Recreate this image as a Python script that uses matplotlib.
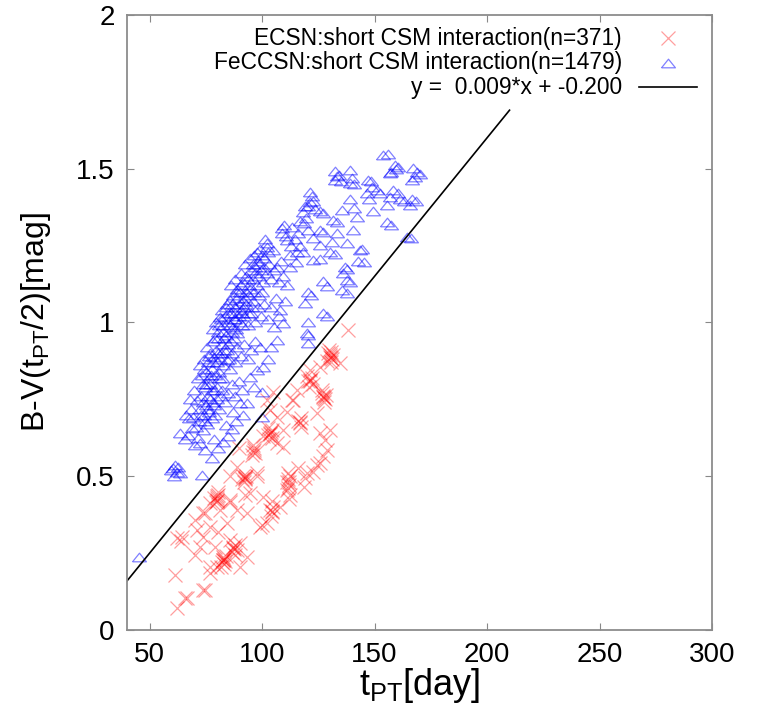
import numpy as np
import matplotlib
matplotlib.use('Agg')
import matplotlib.pyplot as plt
from matplotlib import font_manager

plt.rcParams['font.family'] = ['Liberation Sans', 'DejaVu Sans']
plt.rcParams['mathtext.default'] = 'regular'

# FeCCSN points (t_PT [day], B-V [mag])
feccsn_pts = [
    (45.3, 0.237),
    (59.5, 0.52), (60.8, 0.50), (61.3, 0.535), (62.0, 0.515), (62.8, 0.53), (63.5, 0.51), (60.2, 0.525),
    (73.2, 0.504), (77.6, 0.558), (74.5, 0.585), (80.6, 0.591), (70.0, 0.60), (72.4, 0.608), (63.6, 0.64),
    (65.5, 0.62), (67.0, 0.635), (69.0, 0.655), (71.5, 0.625), (78.5, 0.62), (82.5, 0.61), (85.0, 0.629),
    (84.0, 0.665), (86.8, 0.652), (88.5, 0.68), (87.2, 0.71), (90.2, 0.738), (93.2, 0.738), (91.5, 0.70),
    (94.7, 0.824), (96.5, 0.79), (99.9, 0.775), (99.9, 0.694), (97.8, 0.845), (100.6, 0.856), (102.5, 0.88),
    (104.0, 0.92), (106.5, 0.943), (109.4, 0.998), (107.5, 1.02), (105.5, 0.985),
    (66.0, 0.70), (67.3, 0.688), (68.5, 0.72), (69.3, 0.694), (68.0, 0.75), (69.5, 0.78), (70.5, 0.66),
    (71.0, 0.748), (72.0, 0.68), (72.5, 0.72), (73.0, 0.76), (73.5, 0.65), (74.0, 0.70), (74.5, 0.79),
    (75.0, 0.73), (75.5, 0.67), (76.0, 0.76), (76.5, 0.71), (77.0, 0.80), (77.5, 0.69), (78.0, 0.74),
    (78.5, 0.78), (79.0, 0.70), (80.0, 0.75), (81.0, 0.72), (82.0, 0.78), (83.5, 0.74), (85.0, 0.77),
    (86.5, 0.80), (88.0, 0.76), (89.5, 0.81), (91.0, 0.78),
    (72.8, 0.70), (73.8, 0.74), (74.8, 0.68), (75.8, 0.72), (76.8, 0.75), (77.8, 0.78), (78.8, 0.73),
    (79.8, 0.79), (80.8, 0.82), (81.8, 0.76),
    (71.5, 0.82), (72.5, 0.86), (73.5, 0.80), (74.0, 0.88), (75.0, 0.84), (75.5, 0.92), (76.0, 0.87),
    (76.5, 0.82), (77.0, 0.90), (77.5, 0.85), (78.0, 0.94), (78.4, 0.889), (79.0, 0.83), (79.5, 0.91),
    (80.0, 0.87), (80.5, 0.95), (81.0, 0.84), (81.5, 0.90), (82.0, 0.93), (82.5, 0.86), (83.0, 0.91),
    (84.3, 0.878), (85.0, 0.93), (85.5, 0.85), (86.5, 0.90), (87.5, 0.95), (88.0, 0.87), (89.0, 0.92),
    (90.5, 0.89), (92.0, 0.93), (93.5, 0.88), (95.0, 0.91), (97.0, 0.94), (99.0, 0.92),
    (73.2, 0.83), (74.2, 0.85), (75.2, 0.80), (76.2, 0.89), (77.2, 0.83), (78.2, 0.87), (79.2, 0.95),
    (80.2, 0.90), (81.2, 0.88), (82.2, 0.82), (83.2, 0.95), (84.2, 0.91), (85.2, 0.88), (86.2, 0.94),
    (78.0, 0.98), (79.5, 1.00), (80.5, 0.97), (81.3, 1.019), (82.0, 1.04), (82.5, 0.99), (83.5, 1.02),
    (84.0, 0.96), (84.5, 1.06), (85.0, 1.00), (85.8, 1.073), (86.0, 1.03), (86.5, 0.97), (87.0, 1.09),
    (87.5, 1.01), (88.0, 1.05), (88.5, 0.98), (89.0, 1.08), (89.5, 1.02), (90.0, 1.10), (90.5, 1.04),
    (91.0, 0.99), (91.5, 1.07), (92.0, 1.02), (93.0, 1.06), (93.5, 0.99), (94.0, 1.09), (95.0, 1.03),
    (96.0, 1.07), (97.0, 1.00), (98.0, 1.05), (99.5, 1.02), (101.0, 1.06), (102.5, 1.01), (104.0, 1.05),
    (106.0, 1.08), (108.0, 1.04), (110.0, 1.07),
    (80.8, 0.99), (81.8, 1.01), (82.8, 0.97), (83.8, 1.05), (84.8, 1.03), (85.8, 0.99), (86.8, 1.06),
    (87.8, 1.03), (88.8, 1.10), (89.8, 1.06), (90.8, 1.12), (91.8, 1.05), (92.8, 1.10), (93.8, 1.14),
    (94.8, 1.11), (95.8, 1.19), (96.8, 1.16), (97.8, 1.23), (98.8, 1.19), (99.8, 1.22), (100.8, 1.18),
    (87.0, 0.985), (88.0, 1.01), (89.0, 0.965), (90.0, 1.00), (91.0, 1.03), (92.5, 1.08), (93.5, 1.03),
    (95.5, 1.05), (96.5, 1.10), (98.5, 1.09), (100.0, 1.10),
    (86.0, 1.12), (88.0, 1.14), (89.0, 1.11), (90.5, 1.16), (91.5, 1.13), (92.5, 1.19), (93.0, 1.15),
    (94.0, 1.12), (94.5, 1.21), (95.0, 1.17), (96.0, 1.14), (96.5, 1.22), (97.0, 1.18), (97.5, 1.12),
    (98.0, 1.20), (98.5, 1.15), (99.0, 1.24), (99.5, 1.17), (100.5, 1.13), (101.0, 1.21), (102.0, 1.16),
    (102.2, 1.245), (103.0, 1.19), (104.0, 1.14), (105.0, 1.236), (105.5, 1.17), (106.5, 1.181),
    (107.5, 1.13), (108.5, 1.20), (109.5, 1.15), (111.0, 1.12), (112.4, 1.181),
    (102.1, 1.258), (101.5, 1.27), (102.8, 1.23), (108.8, 1.306), (109.8, 1.317), (109.0, 1.29),
    (110.5, 1.28), (111.0, 1.268), (113.0, 1.25), (115.0, 1.197), (116.9, 1.247), (118.2, 1.229),
    (118.4, 1.323), (119.6, 1.34), (120.5, 1.30),
    (113.5, 1.31), (114.5, 1.27), (116.0, 1.29), (117.0, 1.33), (118.0, 1.36), (119.0, 1.38),
    (115.5, 1.23), (112.5, 1.22),
    (118.9, 1.063), (120.4, 1.00), (120.4, 0.96), (120.4, 0.932), (121.8, 1.09), (120.6, 1.10),
    (128.7, 1.119), (128.7, 1.02), (127.2, 1.03), (119.9, 0.965), (137.8, 1.174), (139.0, 1.13),
    (137.8, 1.096), (137.6, 1.138), (136.1, 1.16), (136.9, 1.181), (135.4, 1.106), (127.2, 1.133),
    (145.3, 1.197), (144.4, 1.239), (143.6, 1.236), (142.8, 1.198), (132.4, 1.223), (125.8, 1.206),
    (122.8, 1.203), (125.8, 1.252), (130.2, 1.23), (131.0, 1.263), (137.6, 1.258), (140.6, 1.301),
    (133.2, 1.29), (125.8, 1.301), (127.0, 1.294), (122.7, 1.273),
    (121.3, 1.425), (121.3, 1.393), (122.0, 1.41), (120.5, 1.38), (122.7, 1.395), (123.5, 1.37),
    (125.8, 1.361), (127.0, 1.356), (131.7, 1.333), (133.2, 1.328), (132.4, 1.491), (132.4, 1.463),
    (133.5, 1.476), (134.0, 1.48), (135.0, 1.46), (135.4, 1.366), (139.1, 1.496), (139.1, 1.453),
    (140.0, 1.47), (140.9, 1.45), (139.1, 1.40), (140.8, 1.372), (142.1, 1.344), (146.5, 1.42),
    (147.2, 1.463), (148.3, 1.46), (149.0, 1.44), (147.5, 1.40), (149.5, 1.361), (151.0, 1.431),
    (152.4, 1.42), (153.9, 1.545), (155.8, 1.548), (156.9, 1.485), (157.5, 1.49), (159.1, 1.512),
    (160.4, 1.506), (159.5, 1.50), (158.4, 1.431), (156.9, 1.409), (155.4, 1.382), (155.4, 1.328),
    (157.3, 1.317), (161.3, 1.40), (160.4, 1.42), (163.3, 1.395), (166.5, 1.40), (165.8, 1.382),
    (166.5, 1.463), (167.3, 1.501), (168.0, 1.474), (169.0, 1.49), (170.0, 1.483), (168.4, 1.395),
    (164.3, 1.279), (166.0, 1.273),
]

# ECSN points
ecsn_pts = [
    (130.2, 0.889), (129.5, 0.90), (131.0, 0.88), (130.5, 0.87), (129.8, 0.91), (131.5, 0.895),
    (128.8, 0.875), (130.8, 0.905), (130.0, 0.895), (130.6, 0.885),
    (138.4, 0.976), (134.7, 0.868), (125.8, 0.856), (121.3, 0.846),
    (121.3, 0.813), (120.6, 0.808), (122.0, 0.82), (121.0, 0.79), (122.5, 0.80), (119.8, 0.825), (121.2, 0.81),
    (127.2, 0.759), (126.5, 0.77), (128.0, 0.75), (127.5, 0.74), (126.8, 0.78), (128.3, 0.765), (124.3, 0.705),
    (127.0, 0.76), (127.6, 0.755),
    (116.9, 0.673), (116.0, 0.68), (117.5, 0.66), (117.2, 0.69), (115.4, 0.78), (113.2, 0.748),
    (111.0, 0.71), (113.9, 0.748), (116.8, 0.675),
    (103.6, 0.64), (102.8, 0.634), (104.3, 0.65), (103.0, 0.62), (104.5, 0.625), (102.5, 0.655),
    (103.5, 0.638), (103.8, 0.644),
    (105.0, 0.775), (103.6, 0.715), (102.1, 0.748), (106.5, 0.694), (109.5, 0.65), (106.5, 0.607), (109.5, 0.596),
    (96.0, 0.58), (96.5, 0.59), (95.5, 0.57), (97.0, 0.575), (96.1, 0.60), (96.2, 0.584), (100.6, 0.629),
    (89.5, 0.591),
    (92.4, 0.494), (91.7, 0.499), (93.0, 0.50), (92.0, 0.48), (91.0, 0.49), (92.3, 0.496), (92.6, 0.49),
    (97.6, 0.51), (97.6, 0.499), (88.7, 0.531), (85.8, 0.499),
    (111.7, 0.51), (111.5, 0.49), (112.0, 0.47), (111.2, 0.455), (112.2, 0.44), (111.8, 0.425),
    (111.0, 0.48), (112.5, 0.50), (111.6, 0.46), (111.9, 0.48),
    (116.1, 0.525), (119.9, 0.51), (119.1, 0.493), (118.4, 0.466),
    (122.8, 0.515), (125.8, 0.542), (128.8, 0.585), (128.0, 0.618), (130.2, 0.65), (125.8, 0.64),
    (127.2, 0.564), (124.3, 0.537),
    (104.3, 0.385), (103.6, 0.39), (105.0, 0.40), (104.0, 0.37), (104.2, 0.388), (104.3, 0.418),
    (108.0, 0.401), (100.6, 0.433), (99.1, 0.336), (102.1, 0.347), (100.1, 0.34),
    (79.9, 0.423), (79.9, 0.434), (80.5, 0.44), (79.3, 0.415), (80.2, 0.45), (78.8, 0.43), (79.8, 0.428),
    (80.1, 0.42), (76.9, 0.412),
    (81.3, 0.39), (85.8, 0.423), (88.7, 0.39), (93.2, 0.379), (94.7, 0.445), (92.4, 0.439), (85.8, 0.417),
    (74.7, 0.379), (73.9, 0.38), (70.2, 0.358), (71.0, 0.325), (76.9, 0.336), (84.3, 0.347), (80.6, 0.32),
    (73.9, 0.303), (64.3, 0.303), (64.0, 0.29), (62.1, 0.298),
    (87.2, 0.266), (88.7, 0.26), (87.8, 0.275), (86.5, 0.255), (88.0, 0.245), (87.3, 0.262), (87.0, 0.27),
    (90.2, 0.282), (85.8, 0.293),
    (82.8, 0.228), (82.8, 0.238), (83.5, 0.225), (82.0, 0.22), (83.0, 0.215), (84.0, 0.24), (82.9, 0.232),
    (82.6, 0.226), (81.5, 0.205),
    (79.1, 0.271), (72.4, 0.271), (70.2, 0.244), (93.2, 0.238), (90.2, 0.206), (79.9, 0.206),
    (76.9, 0.206), (76.9, 0.184),
    (74.7, 0.13), (73.9, 0.13), (66.5, 0.103), (65.8, 0.103), (62.1, 0.07), (61.3, 0.179),
]

# fitted line
slope = 0.009
intercept = -0.200
fit_x = [40, 210]

labels = ['ECSN:short CSM interaction(n=371)',
          'FeCCSN:short CSM interaction(n=1479)',
          'y =  0.009*x + -0.200']

fe_x, fe_y = zip(*feccsn_pts)
ec_x, ec_y = zip(*ecsn_pts)

# narrow font for the y label if there is one
try:
    font_manager.findfont('Liberation Sans Narrow', fallback_to_default=False)
    label_font, ylab_size = 'Liberation Sans Narrow', 28
except Exception:
    label_font, ylab_size = 'Liberation Sans', 23

# gnuplot style flat triangle
tri = [(-1, -0.62), (1, -0.62), (0, 0.62), (-1, -0.62)]
red_kw = dict(ls='none', marker='x', ms=9.5, mew=0.9, color='#ff0000', alpha=0.38)
blue_kw = dict(ls='none', marker=tri, ms=10, mew=0.9, mfc='none', mec='#0000ff', alpha=0.5)

fig = plt.figure(figsize=(7.57, 7.07), dpi=100)
ax = fig.add_axes([0.168, 0.109, 0.7725, 0.870])

ax.plot(ec_x, ec_y, **red_kw)
ax.plot(fe_x, fe_y, **blue_kw)
fx = np.array(fit_x)
ax.plot(fx, slope * fx + intercept, color='black', lw=1.2)

ax.set_xlim(40, 300)
ax.set_ylim(0, 2)
ax.set_xticks([50, 100, 150, 200, 250, 300])
ax.set_yticks([0, 0.5, 1, 1.5, 2])
ax.set_yticklabels(['0', '0.5', '1', '1.5', '2'])
ax.tick_params(direction='in', length=5, width=0.8, color='#888888', labelsize=20,
               top=True, right=True, pad=9)
for s in ax.spines.values():
    s.set_color('#8c8c8c')
    s.set_linewidth(1.3)

ax.set_xlabel('t$_{PT}$[day]', fontsize=26)
ax.xaxis.set_label_coords(0.5, -0.058)
ax.set_ylabel('B-V(t$_{PT}$/2)[mag]', fontsize=ylab_size, family=label_font)
ax.yaxis.set_label_coords(-0.126, 0.5)

# legend drawn like gnuplot: right aligned text, sample on the right
tr = ax.transAxes
rows = [0.962, 0.922, 0.882]
for i, lab in enumerate(labels):
    ax.text(0.846, rows[i], lab, transform=tr, ha='right', va='center', fontsize=16.4)
ax.plot([0.925], [rows[0]], transform=tr, clip_on=False, **red_kw)
ax.plot([0.925], [rows[1]], transform=tr, clip_on=False, **blue_kw)
ax.plot([0.875, 0.975], [rows[2], rows[2]], transform=tr, color='black', lw=1.2)

fig.savefig('out.png', dpi=100)
